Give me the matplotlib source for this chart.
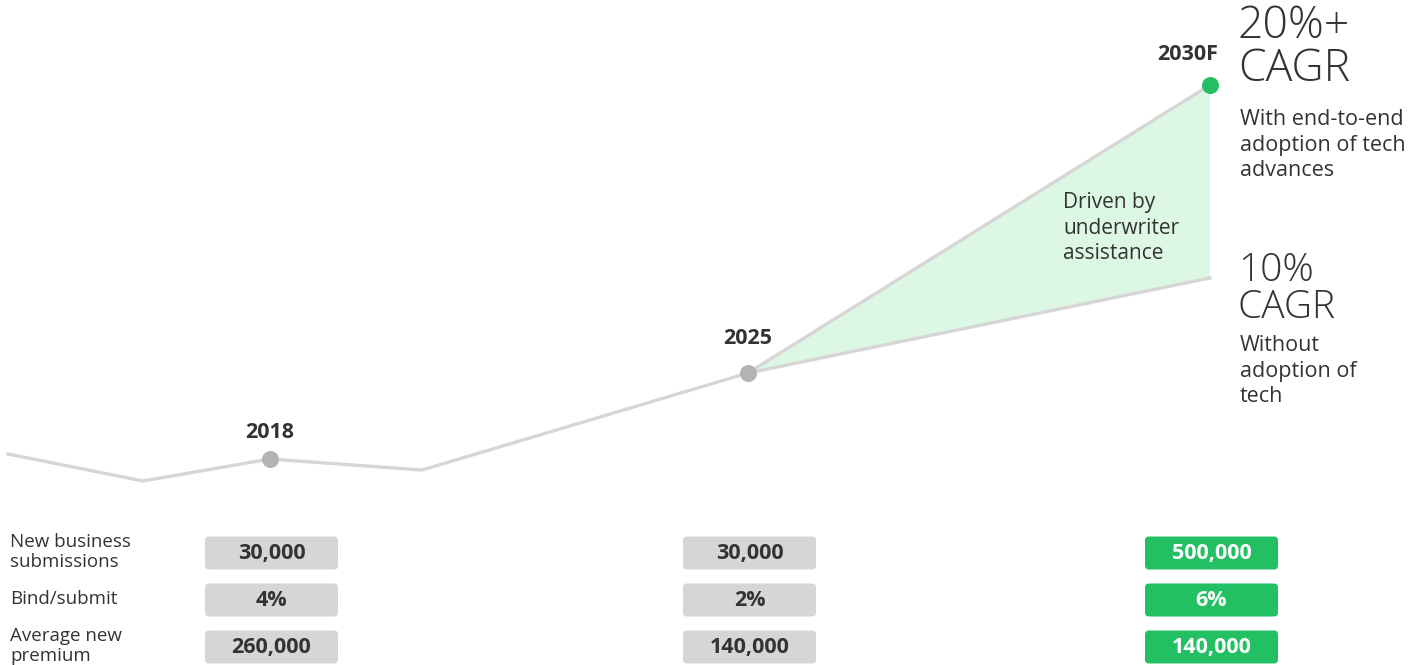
import matplotlib.pyplot as plt
from matplotlib.patches import FancyBboxPatch, Polygon

plt.rcParams['font.family'] = ['Open Sans', 'DejaVu Sans']

# trend line (chart position, level), drawn on a canvas-sized axes
trend_x = [8, 143, 270, 422, 748]
trend_y = [454, 481, 459, 470, 373]
upper_x = [748, 1210]
upper_y = [373, 85]
lower_x = [748, 1210]
lower_y = [373, 278]

years = ['2018', '2025', '2030F']
year_x = [270, 748, 1210]
year_y = [459, 373, 85]

rows = ['New business\nsubmissions', 'Bind/submit', 'Average new\npremium']
vals_2018 = ['30,000', '4%', '260,000']
vals_2025 = ['30,000', '2%', '140,000']
vals_2030 = ['500,000', '6%', '140,000']

GREY_LINE = '#d6d6d6'
GREY_DOT = '#b3b3b3'
GREEN = '#22c063'
FILL = '#dcf7e3'
DARK = '#333333'

fig = plt.figure(figsize=(14.22, 6.65), dpi=100)
ax = fig.add_axes([0, 0, 1, 1])
ax.set_xlim(0, 1422)
ax.set_ylim(665, 0)
ax.axis('off')

ax.add_patch(Polygon([(upper_x[0], upper_y[0]), (upper_x[1], upper_y[1]),
                      (lower_x[1], lower_y[1])], closed=True,
                     facecolor=FILL, edgecolor='none', zorder=1))
ax.plot(trend_x, trend_y, color=GREY_LINE, lw=2.4, zorder=2, solid_joinstyle='miter')
ax.plot(upper_x, upper_y, color=GREY_LINE, lw=2.4, zorder=2)
ax.plot(lower_x, lower_y, color=GREY_LINE, lw=2.4, zorder=2)

ax.scatter(year_x[:2], year_y[:2], s=150, color=GREY_DOT, zorder=3, linewidths=0)
ax.scatter(year_x[2:], year_y[2:], s=150, color=GREEN, zorder=3, linewidths=0)

ax.text(270, 432, years[0], ha='center', va='center', fontsize=15.5, fontweight='bold', color=DARK)
ax.text(748, 338, years[1], ha='center', va='center', fontsize=15.5, fontweight='bold', color=DARK)
ax.text(1218, 55, years[2], ha='right', va='center', fontsize=15.5, fontweight='bold', color=DARK)

ax.text(1063, 228, 'Driven by\nunderwriter\nassistance', ha='left', va='center',
        fontsize=15, color=DARK, linespacing=1.3)

ax.text(1238, 48, '20%+\nCAGR', ha='left', va='center', fontsize=32, fontweight='light',
        color=DARK, linespacing=0.95)
ax.text(1240, 145, 'With end-to-end\nadoption of tech\nadvances', ha='left', va='center',
        fontsize=15.5, color=DARK, linespacing=1.3)
ax.text(1238, 289, '10%\nCAGR', ha='left', va='center', fontsize=28, fontweight='light',
        color=DARK, linespacing=0.95)
ax.text(1240, 371, 'Without\nadoption of\ntech', ha='left', va='center',
        fontsize=15.5, color=DARK, linespacing=1.3)

row_y = [553, 600, 647]
col_x = [205, 683, 1145]
box_w, box_h = 133, 33
for i, label in enumerate(rows):
    ax.text(10, row_y[i] - 1, label, ha='left', va='center', fontsize=13.5,
            color=DARK, linespacing=1.15)
    for cx, vals, green in [(col_x[0], vals_2018, False), (col_x[1], vals_2025, False),
                            (col_x[2], vals_2030, True)]:
        ax.add_patch(FancyBboxPatch((cx + 4, row_y[i] - box_h / 2 + 4), box_w - 8, box_h - 8,
                                    boxstyle='round,pad=4', facecolor=GREEN if green else '#d6d6d6',
                                    edgecolor='none', zorder=2))
        ax.text(cx + box_w / 2, row_y[i], vals[i], ha='center', va='center', fontsize=15.5,
                fontweight='bold', color='white' if green else DARK, zorder=3)

fig.savefig('out.png', dpi=100)
